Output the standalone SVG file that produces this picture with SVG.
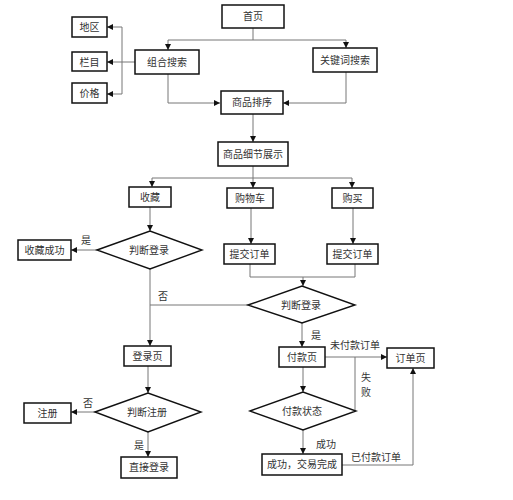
<svg xmlns="http://www.w3.org/2000/svg" width="513" height="500" viewBox="0 0 513 500">
<defs>
<marker id="arr" markerWidth="6" markerHeight="6" refX="6" refY="3" orient="auto" markerUnits="userSpaceOnUse">
<path d="M0,0 L6,3 L0,6 Z" fill="#111"/>
</marker>
<style>
.box{fill:#fff;stroke:#111;stroke-width:1.5}
.dia{fill:#fff;stroke:#111;stroke-width:1.4}
.ln{fill:none;stroke:#777;stroke-width:1}
.arw{fill:none;stroke:#777;stroke-width:1;marker-end:url(#arr)}
text{font-family:"Noto Sans CJK SC","Noto Sans",sans-serif;font-size:10px;fill:#333;text-anchor:middle}
</style>
</defs>
<rect width="513" height="500" fill="#fff"/>
<g id="connectors">
<path class="arw" d="M253,28 V40 H168 V50"/>
<path class="arw" d="M253,40 H346 V48"/>
<path class="arw" d="M135,62 H107"/>
<path class="arw" d="M122,62 V27 H107"/>
<path class="arw" d="M122,62 V94 H107"/>
<path class="arw" d="M168,74 V103 H220"/>
<path class="arw" d="M346,72 V103 H283"/>
<path class="arw" d="M253,114 V142"/>
<path class="arw" d="M253,166 V178 H152 V187"/>
<path class="arw" d="M253,178 V188"/>
<path class="arw" d="M253,178 H352 V188"/>
<path class="arw" d="M150,207 V231"/>
<path class="arw" d="M97,250 H71"/>
<path class="arw" d="M150,269 V346"/>
<path class="ln" d="M248,305 H150"/>
<path class="arw" d="M251,208 V244"/>
<path class="arw" d="M353,208 V244"/>
<path class="ln" d="M250,264 V277 H355 V264"/>
<path class="arw" d="M303,277 V286"/>
<path class="arw" d="M302,323 V347"/>
<path class="arw" d="M325,357 H387"/>
<path class="ln" d="M355,411 V357"/>
<path class="arw" d="M303,367 V392"/>
<path class="arw" d="M303,430 V454"/>
<path class="arw" d="M342,465 H413 V368"/>
<path class="arw" d="M148,366 V393"/>
<path class="arw" d="M95,412 H71"/>
<path class="arw" d="M148,432 V457"/>
</g>
<g id="labels">
<text x="86" y="244">是</text>
<text x="163" y="300">否</text>
<text x="316" y="339">是</text>
<text x="355" y="349">未付款订单</text>
<text x="366" y="381">失</text>
<text x="366" y="396">败</text>
<text x="326" y="448">成功</text>
<text x="376" y="461">已付款订单</text>
<text x="88" y="407">否</text>
<text x="139" y="449">是</text>
</g>
<g id="n-home"><rect class="box" x="222" y="5" width="62" height="23"/><text x="253" y="20">首页</text></g>
<g id="n-diqu"><rect class="box" x="72" y="17" width="35" height="20"/><text x="89.5" y="31">地区</text></g>
<g id="n-lanmu"><rect class="box" x="72" y="52" width="35" height="19"/><text x="89.5" y="65.5">栏目</text></g>
<g id="n-jiage"><rect class="box" x="72" y="83" width="35" height="20"/><text x="89.5" y="97">价格</text></g>
<g id="n-zuhe"><rect class="box" x="135" y="50" width="64" height="24"/><text x="167" y="66">组合搜索</text></g>
<g id="n-guanjian"><rect class="box" x="313" y="48" width="64" height="24"/><text x="345" y="64">关键词搜索</text></g>
<g id="n-paixu"><rect class="box" x="221" y="91" width="62" height="23"/><text x="252" y="106">商品排序</text></g>
<g id="n-xijie"><rect class="box" x="218" y="142" width="70" height="24"/><text x="253" y="158">商品细节展示</text></g>
<g id="n-shoucang"><rect class="box" x="129" y="187" width="42" height="20"/><text x="150" y="201">收藏</text></g>
<g id="n-gouwuche"><rect class="box" x="227" y="188" width="46" height="20"/><text x="250" y="202">购物车</text></g>
<g id="n-goumai"><rect class="box" x="332" y="188" width="41" height="20"/><text x="352.5" y="202">购买</text></g>
<g id="n-pd1"><polygon class="dia" points="97,250 150,231 202,250 150,269"/><text x="149" y="254">判断登录</text></g>
<g id="n-scok"><rect class="box" x="18" y="240" width="53" height="20"/><text x="44.5" y="254">收藏成功</text></g>
<g id="n-tj1"><rect class="box" x="224" y="244" width="51" height="20"/><text x="249.5" y="258">提交订单</text></g>
<g id="n-tj2"><rect class="box" x="327" y="244" width="51" height="20"/><text x="352.5" y="258">提交订单</text></g>
<g id="n-pd2"><polygon class="dia" points="248,305 302,286 355,305 302,323"/><text x="301" y="309">判断登录</text></g>
<g id="n-denglu"><rect class="box" x="124" y="346" width="47" height="20"/><text x="147.5" y="360">登录页</text></g>
<g id="n-fukuan"><rect class="box" x="279" y="347" width="46" height="20"/><text x="302" y="361">付款页</text></g>
<g id="n-dingdan"><rect class="box" x="387" y="348" width="47" height="20"/><text x="410.5" y="362">订单页</text></g>
<g id="n-pd3"><polygon class="dia" points="95,412 148,393 201,412 148,432"/><text x="147" y="416">判断注册</text></g>
<g id="n-zhuce"><rect class="box" x="24" y="403" width="47" height="20"/><text x="47.5" y="417">注册</text></g>
<g id="n-fkzt"><polygon class="dia" points="250,411 303,392 356,411 303,430"/><text x="302" y="415">付款状态</text></g>
<g id="n-zhijie"><rect class="box" x="121" y="457" width="56" height="21"/><text x="149" y="471">直接登录</text></g>
<g id="n-wancheng"><rect class="box" x="262" y="454" width="80" height="21"/><text x="302" y="468">成功，交易完成</text></g>
</svg>
